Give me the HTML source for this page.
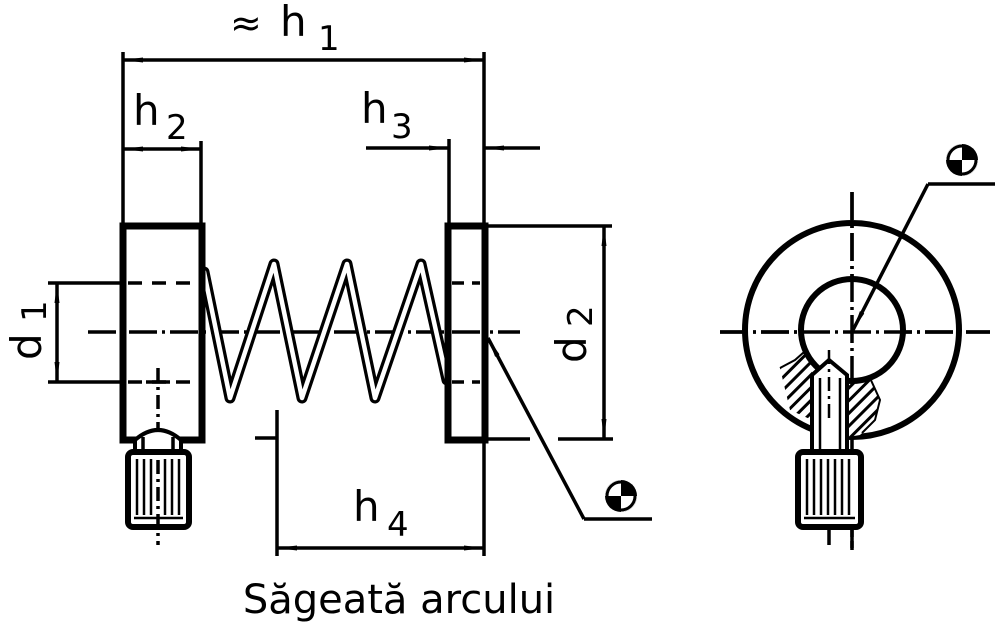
<!DOCTYPE html>
<html><head><meta charset="utf-8"><style>
html,body{margin:0;padding:0;background:#fff;}
svg{display:block}
text{font-family:"DejaVu Sans","Liberation Sans",sans-serif;fill:#000}
</style></head><body>
<svg width="1000" height="622" viewBox="0 0 1000 622" xmlns="http://www.w3.org/2000/svg">
<defs>
<marker id="a" viewBox="0 0 20 8" refX="20" refY="4" markerWidth="20" markerHeight="8" markerUnits="userSpaceOnUse" orient="auto-start-reverse"><path d="M0,1.5 L20,4 L0,6.5z" fill="#000"/></marker>
<pattern id="h" width="9" height="9" patternUnits="userSpaceOnUse" patternTransform="rotate(45)"><rect width="9" height="9" fill="#fff"/><rect width="3" height="9" fill="#000"/></pattern>
</defs>
<g stroke="#000" fill="none" stroke-width="3.5">
<line x1="123" y1="52" x2="123" y2="226"/>
<line x1="484" y1="52" x2="484" y2="556"/>
<line x1="123" y1="60" x2="484" y2="60" marker-start="url(#a)" marker-end="url(#a)"/>
<line x1="201" y1="141" x2="201" y2="226"/>
<line x1="123" y1="149" x2="201" y2="149" marker-start="url(#a)" marker-end="url(#a)"/>
<line x1="449" y1="139" x2="449" y2="226"/>
<line x1="366" y1="148" x2="449" y2="148" marker-end="url(#a)"/>
<line x1="540" y1="148" x2="484" y2="148" marker-end="url(#a)"/>
<line x1="48" y1="283" x2="123" y2="283"/>
<line x1="48" y1="382" x2="123" y2="382"/>
<line x1="57" y1="283" x2="57" y2="382" marker-start="url(#a)" marker-end="url(#a)"/>
<line x1="487" y1="226" x2="612" y2="226"/>
<line x1="487" y1="439" x2="530" y2="439"/>
<line x1="558" y1="439" x2="613" y2="439"/>
<line x1="604" y1="226" x2="604" y2="439" marker-start="url(#a)" marker-end="url(#a)"/>
<line x1="277" y1="410" x2="277" y2="556"/>
<line x1="255" y1="438" x2="277" y2="438"/>
<line x1="277" y1="548" x2="484" y2="548" marker-start="url(#a)" marker-end="url(#a)"/>
<line x1="88" y1="332" x2="520" y2="332" stroke-dasharray="28,5,3,5"/>
<line x1="128" y1="283" x2="200" y2="283" stroke-dasharray="14,10"/>
<line x1="128" y1="382" x2="200" y2="382" stroke-dasharray="14,10"/>
<line x1="158" y1="368" x2="158" y2="530" stroke-dasharray="14,5,3,5"/>
<line x1="146" y1="382" x2="170" y2="382"/>
<path d="M204,272 L230,398 L274,264 L302,398 L347,264 L375,398 L421,264 L447,380" stroke-width="11" stroke-linejoin="round" stroke-linecap="round"/>
<path d="M204,272 L230,398 L274,264 L302,398 L347,264 L375,398 L421,264 L447,380" stroke="#fff" stroke-width="4.5" stroke-linejoin="round" stroke-linecap="round"/>
<rect x="123" y="226" width="79" height="214" fill="none" stroke-width="7"/>
<rect x="448" y="226" width="37" height="214" fill="#fff" stroke-width="7"/>
<line x1="452" y1="283" x2="480" y2="283" stroke-dasharray="12,8"/>
<line x1="452" y1="382" x2="480" y2="382" stroke-dasharray="12,8"/>
<line x1="452" y1="332" x2="480" y2="332" stroke-dasharray="28,5,3,5"/>
<path d="M135,452 L135,440 Q158,420 181,440 L181,452" stroke-width="4" fill="#fff"/>
<line x1="143" y1="437" x2="143" y2="452"/><line x1="173" y1="437" x2="173" y2="452"/>
<rect x="128" y="452" width="61" height="75" rx="5" stroke-width="6" fill="#fff"/>
<g stroke-width="2.5"><line x1="137" y1="459" x2="137" y2="515"/><line x1="144" y1="459" x2="144" y2="515"/><line x1="151" y1="459" x2="151" y2="515"/><line x1="165" y1="459" x2="165" y2="515"/><line x1="172" y1="459" x2="172" y2="515"/><line x1="179" y1="459" x2="179" y2="515"/><line x1="134" y1="518" x2="183" y2="518"/></g>
<line x1="158" y1="460" x2="158" y2="545" stroke-dasharray="14,5,3,5"/>
<line x1="584" y1="519" x2="652" y2="519"/>
<line x1="584" y1="519" x2="488" y2="338" marker-end="url(#a)"/>
<line x1="720" y1="332" x2="990" y2="332" stroke-dasharray="28,5,3,5"/>
<line x1="852" y1="192" x2="852" y2="550" stroke-dasharray="28,5,3,5"/>
<circle cx="852" cy="330" r="107" stroke-width="6"/>
<path d="M780,368 L795,360 L812,345 L812,420 L790,410 Z" fill="url(#h)" stroke="none"/>
<path d="M848,380 L870,378 L880,400 L875,420 L860,435 L848,437 Z" fill="url(#h)" stroke="none"/>
<path d="M780,368 L795,360 L812,345" stroke-width="2"/>
<path d="M870,378 L880,400 L875,420 L862,433" stroke-width="2"/>
<circle cx="852" cy="330" r="51" stroke-width="6" fill="#fff"/>
<line x1="720" y1="332" x2="990" y2="332" stroke-dasharray="28,5,3,5"/>
<line x1="852" y1="192" x2="852" y2="380" stroke-dasharray="28,5,3,5"/>
<path d="M812,452 L812,375 L829,360 L847,375 L847,452" fill="#fff" stroke-width="4"/>
<line x1="820" y1="378" x2="820" y2="452" stroke-width="2.5"/>
<line x1="840" y1="378" x2="840" y2="452" stroke-width="2.5"/>
<line x1="829" y1="350" x2="829" y2="420" stroke-dasharray="14,5,3,5" stroke-width="2.5"/>
<rect x="798" y="452" width="63" height="75" rx="5" stroke-width="6" fill="#fff"/>
<g stroke-width="2.5"><line x1="807" y1="459" x2="807" y2="515"/><line x1="814" y1="459" x2="814" y2="515"/><line x1="821" y1="459" x2="821" y2="515"/><line x1="828" y1="459" x2="828" y2="515"/><line x1="835" y1="459" x2="835" y2="515"/><line x1="842" y1="459" x2="842" y2="515"/><line x1="849" y1="459" x2="849" y2="515"/><line x1="804" y1="518" x2="855" y2="518"/></g>
<line x1="829" y1="527" x2="829" y2="545"/>
<line x1="852" y1="527" x2="852" y2="550" stroke-dasharray="10,4"/>
<line x1="928" y1="184" x2="995" y2="184"/>
<line x1="928" y1="184" x2="853" y2="330" marker-end="url(#a)"/>
</g>
<g>
<circle cx="621" cy="496" r="16" fill="#000"/>
<path d="M621,496 L637,496 A16,16 0 0,1 621,512 Z" fill="#fff"/>
<path d="M621,496 L605,496 A16,16 0 0,1 621,480 Z" fill="#fff"/>
<circle cx="621" cy="496" r="14" fill="none" stroke="#000" stroke-width="3"/>
<circle cx="962" cy="160" r="16" fill="#000"/>
<path d="M962,160 L978,160 A16,16 0 0,1 962,176 Z" fill="#fff"/>
<path d="M962,160 L946,160 A16,16 0 0,1 962,144 Z" fill="#fff"/>
<circle cx="962" cy="160" r="14" fill="none" stroke="#000" stroke-width="3"/>
</g>
<text x="230" y="36" font-size="38">≈</text>
<text x="280" y="36" font-size="42">h</text>
<text x="318" y="50" font-size="34">1</text>
<text x="133" y="125" font-size="42">h</text>
<text x="166" y="139" font-size="34">2</text>
<text x="361" y="123" font-size="42">h</text>
<text x="391" y="138" font-size="34">3</text>
<text x="353" y="521" font-size="42">h</text>
<text x="387" y="536" font-size="34">4</text>
<text transform="translate(41,360) rotate(-90)" font-size="42">d</text>
<text transform="translate(46,322) rotate(-90)" font-size="34">1</text>
<text transform="translate(586,363) rotate(-90)" font-size="42">d</text>
<text transform="translate(592,327) rotate(-90)" font-size="34">2</text>
<text x="399" y="613" font-size="40" text-anchor="middle">Săgeată arcului</text>
</svg>
</body></html>
